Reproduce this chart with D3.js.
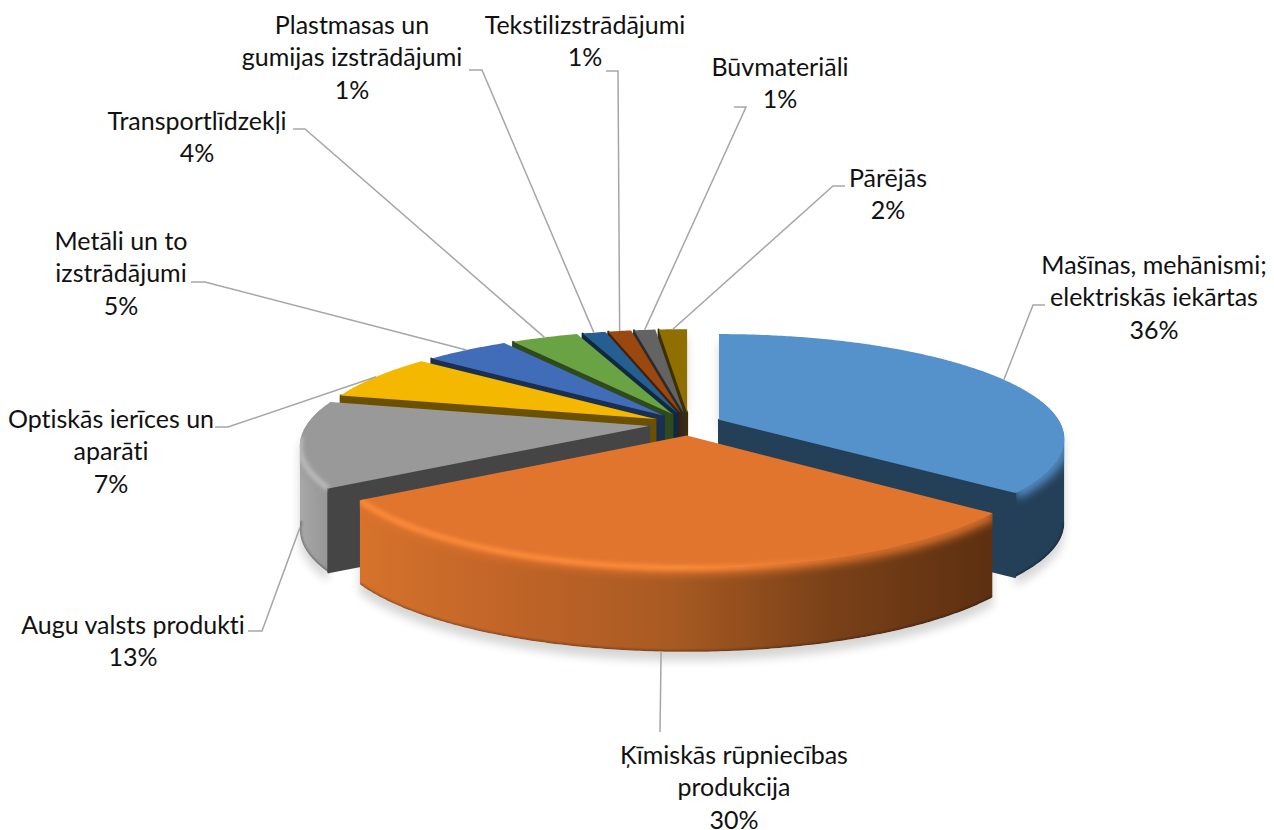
<!DOCTYPE html>
<html>
<head>
<meta charset="utf-8">
<script src="https://cdn.jsdelivr.net/npm/d3@7"></script>
<style>
  html, body { margin: 0; padding: 0; background: #fff; }
  text { font-family: Lato, "Open Sans", sans-serif; fill: #111; font-variant-ligatures: none; }
</style>
</head>
<body>
<div id="chart"></div>
<script>
const categories = ["Mašīnas, mehānismi; elektriskās iekārtas", "Ķīmiskās rūpniecības produkcija",
    "Augu valsts produkti", "Optiskās ierīces un aparāti", "Metāli un to izstrādājumi", "Transportlīdzekļi",
    "Plastmasas un gumijas izstrādājumi", "Tekstilizstrādājumi", "Būvmateriāli", "Pārējās"];
// the labels show these rounded
const shares = [36, 29.9, 13, 7.1, 4.8, 3.8, 1.3, 1.3, 1.2, 1.6];
const labelLines = [["Mašīnas, mehānismi;", "elektriskās iekārtas"], ["Ķīmiskās rūpniecības", "produkcija"],
    ["Augu valsts produkti"], ["Optiskās ierīces un", "aparāti"], ["Metāli un to", "izstrādājumi"], ["Transportlīdzekļi"],
    ["Plastmasas un", "gumijas izstrādājumi"], ["Tekstilizstrādājumi"], ["Būvmateriāli"], ["Pārējās"]];

const topColors = ["#5591CB", "#E1752E", "#999999", "#F4B800", "#416CB8", "#6AA343", "#255F92", "#9A4710", "#636363", "#8F6F00"];
const sideColors = ["#243F58", "#5E3011", "#454545", "#6B5000", "#1B2F50", "#2F4A1D", "#10293F", "#43200A", "#2C2C2C", "#3D3000"];
const wallStops = [["#243F58", "#243F58"], ["#D6722B", "#C06428", "#A85A22", "#7A4118", "#5E3011"], ["#A8A8A8", "#8E8E8E"]];
const rimGlow = ["", "#FF8E3A", "#BEBEBE"];
const explodes = [0.097, 0.11, 0.118, 0.11, 0.11, 0.11, 0.11, 0.11, 0.11, 0.11];

// label centre x, first row y, then the elbow of the leader and where it stops
const labelX = [1154, 734, 133, 111, 121, 197, 352, 585, 780, 888];
const labelY = [265, 755, 625, 419, 241, 121, 25, 25, 67, 178];
const elbowX = [1033, 660, 262, 228, 205, 305, 482, 618, 746, 833];
const elbowY = [305, 732, 631, 427, 282, 129, 70, 71, 107, 186];
const leaderEndX = [1045, 660, 248, 215, 191, 293, 469, 606, 734, 845];

const width = 1274, height = 830;
const cx = 689, cy = 424;
const rx = 342, ry = 103;
const tilt = 0.185, depth = 84;
const toRad = Math.PI / 180;

const xScale = d3.scaleLinear().domain([-1, 1]).range([cx - rx, cx + rx]);
const yScale = d3.scaleLinear().domain([-1, 1]).range([cy - ry, cy + ry]);

const slices = d3.pie().value(d => d).sort(null)(shares).map((d, i) => {
    const mid = (d.startAngle + d.endAngle) / 2;
    return { i, a0: d.startAngle, a1: d.endAngle, mid, ox: explodes[i] * Math.sin(mid), oy: -explodes[i] * Math.cos(mid) };
});

// pie plane to screen, front of the pie drawn bigger than the back
function project(s, angle, r, drop) {
    const v = s.oy - r * Math.cos(angle);
    const k = 1 / (1 - tilt * v);
    return [xScale(s.ox + r * Math.sin(angle) * k), yScale(v * k) + (drop || 0)];
}

function angles(a0, a1) {
    return d3.range(a0, a1, 0.01).concat([a1]);
}

const line = d3.line();
const rim = (s, a0, a1, drop) => angles(a0, a1).map(a => project(s, a, 1, drop));
const topPath = s => line([project(s, 0, 0), ...rim(s, s.a0, s.a1)]) + "Z";
const wallRange = s => [Math.max(s.a0, 80 * toRad), Math.min(s.a1, 280 * toRad)];
// part of the rim that really shows at the bottom of the wall
const frontRange = s => [Math.max(s.a0, 100 * toRad), Math.min(s.a1, 264 * toRad)];
// one quad per rim step, all wound the same way so the fold at the silhouette stays filled
function wallPath(s) {
    const [lo, hi] = wallRange(s);
    if (lo >= hi) return null;
    const top = rim(s, lo, hi);
    return d3.pairs(top).map(([p, q]) => {
        const [a, b] = p[0] <= q[0] ? [p, q] : [q, p];
        return line([a, b, [b[0], b[1] + depth], [a[0], a[1] + depth]]) + "Z";
    }).join("");
}
function cutPath(s, a) {
    return line([project(s, 0, 0), project(s, a, 1), project(s, a, 1, depth), project(s, 0, 0, depth)]) + "Z";
}

const svg = d3.select("#chart").append("svg")
    .attr("width", width).attr("height", height)
    .style("display", "block");
const defs = svg.append("defs");

[["blur5", 5], ["blur2", 2], ["blur1", 1.2]].forEach(([id, dev]) => {
    defs.append("filter").attr("id", id)
        .attr("x", "-20%").attr("y", "-20%").attr("width", "140%").attr("height", "140%")
        .append("feGaussianBlur").attr("stdDeviation", dev);
});

wallStops.forEach((stops, i) => {
    const g = defs.append("linearGradient").attr("id", "wall" + i)
        .attr("gradientUnits", "userSpaceOnUse")
        .attr("x1", i == 1 ? 358 : 300).attr("x2", i == 1 ? 985 : 340).attr("y1", 0).attr("y2", 0);
    stops.forEach((c, j) => g.append("stop").attr("offset", j / (stops.length - 1)).attr("stop-color", c));
});
const glow = defs.append("linearGradient").attr("id", "glow1")
    .attr("gradientUnits", "userSpaceOnUse").attr("x1", 358).attr("x2", 860).attr("y1", 0).attr("y2", 0);
glow.append("stop").attr("offset", 0).attr("stop-color", "#FF8E3A");
glow.append("stop").attr("offset", 0.65).attr("stop-color", "#FF8E3A");
glow.append("stop").attr("offset", 1).attr("stop-color", "#FF8E3A").attr("stop-opacity", 0);

// soft shadow on the ground
const shadow = svg.append("g").attr("filter", "url(#blur5)")
    .attr("transform", "translate(0,9)").attr("fill", "#000").attr("opacity", 0.16);
slices.forEach(s => {
    const w = wallPath(s);
    shadow.append("path").attr("d", topPath(s));
    if (w) shadow.append("path").attr("d", w);
});

// painter's order, back slices first
const order = slices.slice().sort((a, b) => d3.ascending(-Math.cos(a.mid), -Math.cos(b.mid)));
order.forEach(s => {
    const g = svg.append("g");
    const wall = wallPath(s);
    const [lo, hi] = frontRange(s);
    if (wall) {
        const clip = defs.append("clipPath").attr("id", "clip" + s.i);
        clip.append("path").attr("d", wall);
        clip.append("path").attr("d", topPath(s));
        const inner = g.append("g").attr("clip-path", `url(#clip${s.i})`);
        const stops = wallStops[s.i];
        inner.append("path").attr("d", wall).attr("fill", stops ? `url(#wall${s.i})` : sideColors[s.i]);
        if (lo < hi) {
            inner.append("path").attr("d", line(rim(s, lo, hi)))
                .attr("fill", "none").attr("stroke", topColors[s.i]).attr("stroke-width", 12)
                .attr("filter", "url(#blur5)");
            inner.append("path").attr("d", line(rim(s, lo, hi, depth)))
                .attr("fill", "none").attr("stroke", "#000").attr("stroke-opacity", 0.3).attr("stroke-width", 3)
                .attr("filter", "url(#blur1)");
        }
    }
    // radial cut faces that look towards the viewer, stroked to close the seam with the wall
    const cuts = [];
    if (s.a1 < Math.PI) cuts.push(s.a1);
    if (s.a0 > Math.PI) cuts.push(s.a0);
    cuts.forEach(a => {
        g.append("path").attr("d", cutPath(s, a))
            .attr("fill", sideColors[s.i]).attr("stroke", sideColors[s.i])
            .attr("stroke-width", 2).attr("stroke-linejoin", "round");
    });
    g.append("path").attr("d", topPath(s)).attr("fill", topColors[s.i]);
    if (rimGlow[s.i]) {
        const inner = g.append("g").attr("clip-path", `url(#clip${s.i})`);
        inner.append("path").attr("d", line(rim(s, lo, hi)))
            .attr("fill", "none")
            .attr("stroke", s.i == 1 ? "url(#glow1)" : rimGlow[s.i])
            .attr("stroke-width", 5).attr("filter", "url(#blur2)");
    }
});

// leaders and labels
slices.forEach(s => {
    const front = -Math.cos(s.mid) > 0;
    const anchor = project(s, s.mid, 1, front ? depth : 0);
    svg.append("path")
        .attr("d", line([anchor, [elbowX[s.i], elbowY[s.i]], [leaderEndX[s.i], elbowY[s.i]]]))
        .attr("fill", "none").attr("stroke", "#A6A6A6").attr("stroke-width", 1.5);

    const rows = labelLines[s.i].concat([Math.round(shares[s.i]) + "%"]);
    svg.append("text")
        .attr("text-anchor", "middle").attr("font-size", 25)
        .selectAll("tspan").data(rows).join("tspan")
        .attr("x", labelX[s.i])
        .attr("y", (d, j) => labelY[s.i] + 8.5 + j * 32.5)
        .text(d => d);
});
</script>
</body>
</html>
